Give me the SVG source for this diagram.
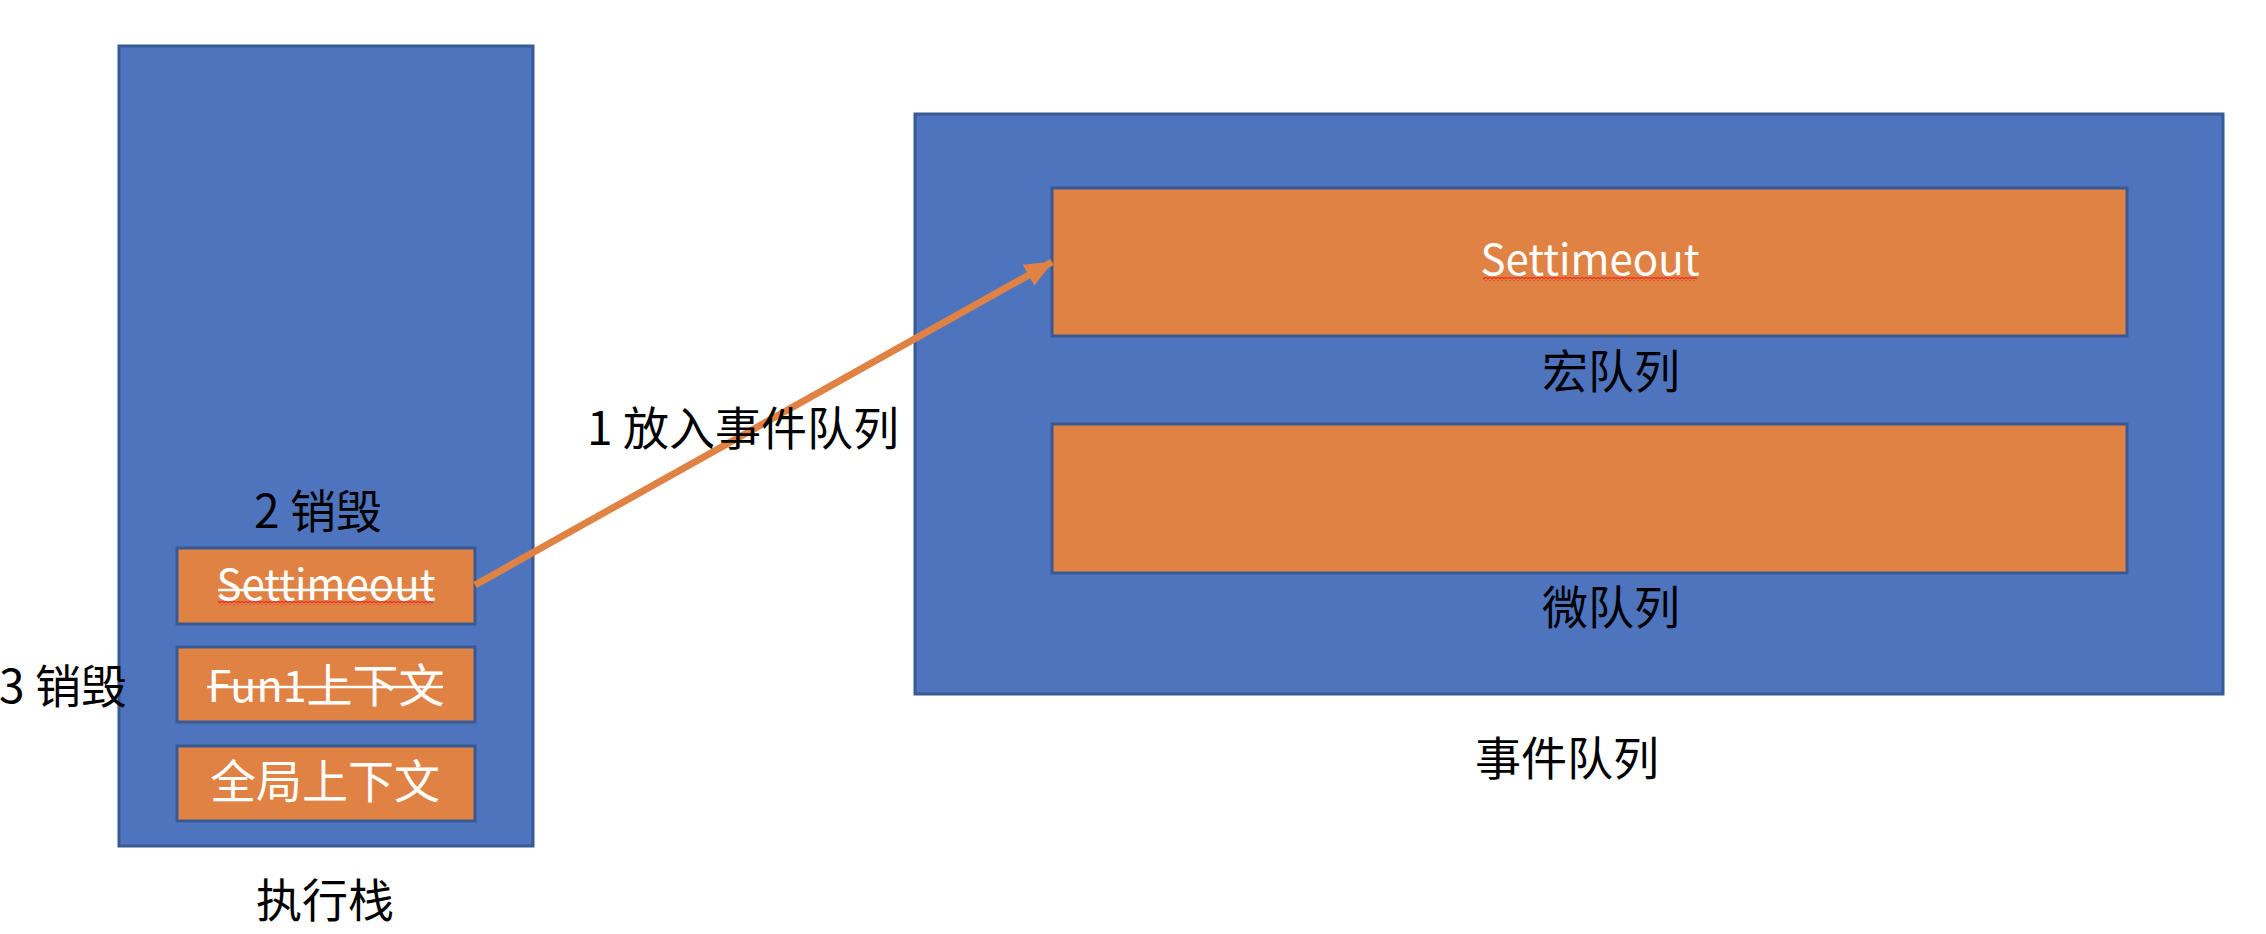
<svg xmlns="http://www.w3.org/2000/svg" width="2266" height="934" viewBox="0 0 2266 934">
<style>
.bg{fill:#ffffff}
.blue{fill:#4E74BE;stroke:#385A94;stroke-width:3}
.orange{fill:#E08244;stroke:#385A94;stroke-width:3}
text{font-family:"Noto Sans CJK SC","Liberation Sans",sans-serif;font-size:46px;text-anchor:middle}
.latin{font-size:42px}
.dark{fill:#000000}
.white{fill:#ffffff}
.strike{stroke:#ffffff;stroke-width:2.5}
.conn{stroke:#E08244;stroke-width:7;fill:none}
</style>
<defs>
<pattern id="wave" patternUnits="userSpaceOnUse" x="0" y="0" width="4" height="4">
<path d="M0,3 L2,1 L4,3" fill="none" stroke="#E8382A" stroke-width="1.4"/>
</pattern>
<marker id="arrow" markerUnits="userSpaceOnUse" viewBox="0 0 28 24" refX="27" refY="12" markerWidth="28" markerHeight="24" orient="auto">
<path d="M0,0 L28,12 L0,24 z" fill="#E08244"/>
</marker>
</defs>
<rect class="bg" x="0" y="0" width="2266" height="934"/>

<g id="exec-stack">
<rect class="blue" x="119" y="46" width="414" height="800"/>
<text class="dark" x="325" y="917">执行栈</text>
</g>

<g id="stack-settimeout">
<rect class="orange" x="177" y="548" width="298" height="76"/>
<text class="white latin" x="326" y="600">Settimeout</text>
<line class="strike" x1="218" y1="590" x2="433" y2="590"/>
<rect x="218" y="601" width="215" height="4" fill="url(#wave)"/>
</g>

<g id="stack-fun1">
<rect class="orange" x="177" y="647" width="298" height="75"/>
<text class="white" x="326" y="702"><tspan font-size="43">Fun1</tspan>上下文</text>
<line class="strike" x1="207" y1="687" x2="443" y2="687"/>
</g>

<g id="stack-global">
<rect class="orange" x="177" y="746" width="298" height="75"/>
<text class="white" x="325" y="798">全局上下文</text>
</g>

<g id="label-destroy-2">
<text class="dark" x="318" y="528">2 销毁</text>
</g>

<g id="label-destroy-3">
<text class="dark" x="63" y="703">3 销毁</text>
</g>

<g id="event-queue">
<rect class="blue" x="915" y="114" width="1308" height="580"/>
<text class="dark" x="1567" y="775">事件队列</text>
</g>

<g id="macro-queue">
<rect class="orange" x="1052" y="188" width="1075" height="148"/>
<text class="white latin" x="1590" y="275">Settimeout</text>
<rect x="1483" y="277" width="214" height="4" fill="url(#wave)"/>
<text class="dark" x="1611" y="388">宏队列</text>
</g>

<g id="micro-queue">
<rect class="orange" x="1052" y="424" width="1075" height="149"/>
<text class="dark" x="1611" y="624">微队列</text>
</g>

<g id="connectors">
<line class="conn" x1="475" y1="585" x2="1052" y2="262" marker-end="url(#arrow)"/>
<text class="dark" x="743" y="445">1 放入事件队列</text>
</g>
</svg>
